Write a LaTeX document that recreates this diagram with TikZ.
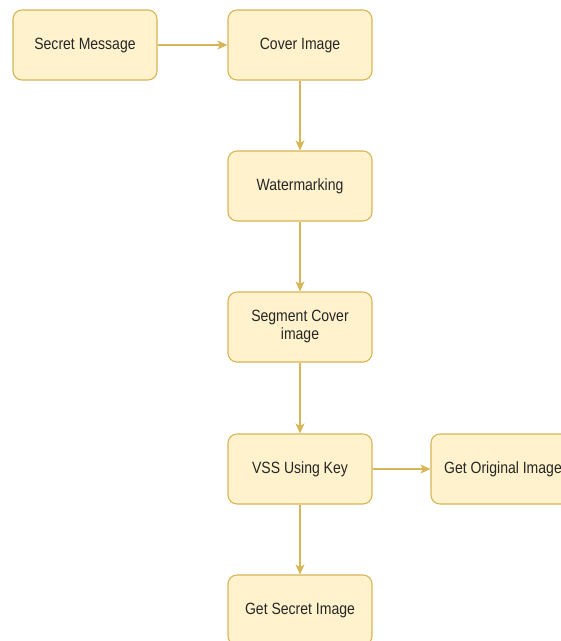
\documentclass[tikz,border=0pt]{standalone}
\usepackage{fontspec}
\setmainfont{Liberation Sans}
\newfontfamily\boxfont[FakeStretch=0.86]{Liberation Sans}
\newcommand\bxfont{\boxfont\fontsize{16.3}{18}\selectfont}
\usetikzlibrary{arrows.meta}
\definecolor{boxfill}{HTML}{FFF2CC}
\definecolor{boxdraw}{HTML}{D6B656}
\definecolor{txt}{HTML}{262626}
\begin{document}
\begin{tikzpicture}[x=1pt,y=-1pt,
  box/.style={draw=boxdraw, fill=boxfill, rounded corners=9pt, line width=1.1pt,
    minimum width=144pt, minimum height=70pt, text=txt,
    font=\bxfont, inner sep=2pt},
  conn/.style={draw=boxdraw, line width=1.1pt, -{Stealth[length=10pt,width=9pt,inset=2.5pt]}}]
\useasboundingbox (0,0) rectangle (561,641);
\node[box] (msg) at (85,45) {Secret Message};
\node[box] (cover) at (300,45) {Cover Image};
\node[box] (wm) at (300,186) {Watermarking};
\node[box] (seg) at (300,327) {\begin{tabular}{@{}c@{}}Segment Cover\\image\end{tabular}};
\node[box] (vss) at (300,469) {VSS Using Key};
\node[box] (orig) at (503,469) {Get Original Image};
\node[box] (sec) at (300,610) {Get Secret Image};
\draw[conn] (msg) -- (cover);
\draw[conn] (cover) -- (wm);
\draw[conn] (wm) -- (seg);
\draw[conn] (seg) -- (vss);
\draw[conn] (vss) -- (orig);
\draw[conn] (vss) -- (sec);
\end{tikzpicture}
\end{document}
